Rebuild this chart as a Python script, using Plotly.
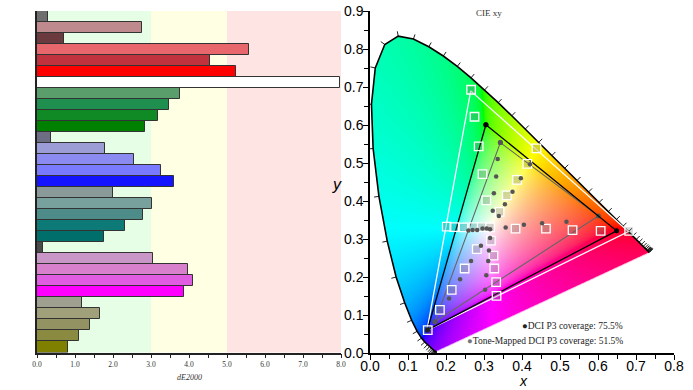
import base64
import struct
import zlib

import numpy as np
import plotly.graph_objects as go

# ---------------- data: left bar chart (dE2000 per patch) ----------------
de_values = [0.29, 2.77, 0.70, 5.59, 4.56, 5.24, 7.98, 3.76, 3.47, 3.19, 2.85,
             0.37, 1.78, 2.56, 3.25, 3.60, 2.00, 3.03, 2.80, 2.31, 1.76,
             0.16, 3.06, 3.98, 4.10, 3.87, 1.18, 1.66, 1.39, 1.11, 0.82]
bar_colors = ["#6e6e6e", "#bf8a8e", "#6b3a3e", "#e8676d", "#c0323e", "#ff0000",
              "#ffffff", "#5a9e6b", "#1f8f4f", "#0f8a24", "#008000",
              "#6d6d84", "#9c9cd6", "#8a8af0", "#7a7aff", "#1414ff",
              "#8a9a98", "#78a09c", "#4e8c8a", "#0e7a78", "#006e6b",
              "#4a4a4a", "#c996c8", "#d880cc", "#e05ce0", "#ff00ff",
              "#a0a090", "#a0a07a", "#929262", "#8a8a40", "#808000"]
band_edges = [0, 3, 5, 8]
band_colors = ["#e6fde6", "#ffffe4", "#ffe4e4"]
de_ticks = [0, 1, 2, 3, 4, 5, 6, 7, 8]

# ---------------- data: CIE 1931 spectral locus ----------------
wl = list(range(380, 705, 5))
locus_x = [0.1741, 0.1740, 0.1738, 0.1736, 0.1733, 0.1730, 0.1726, 0.1721, 0.1714,
           0.1703, 0.1689, 0.1669, 0.1644, 0.1611, 0.1566, 0.1510, 0.1440, 0.1355,
           0.1241, 0.1096, 0.0913, 0.0687, 0.0454, 0.0235, 0.0082, 0.0039, 0.0139,
           0.0389, 0.0743, 0.1142, 0.1547, 0.1929, 0.2296, 0.2658, 0.3016, 0.3373,
           0.3731, 0.4087, 0.4441, 0.4788, 0.5125, 0.5448, 0.5752, 0.6029, 0.6270,
           0.6482, 0.6658, 0.6801, 0.6915, 0.7006, 0.7079, 0.7140, 0.7190, 0.7230,
           0.7260, 0.7283, 0.7300, 0.7311, 0.7320, 0.7327, 0.7334, 0.7340, 0.7344,
           0.7346, 0.7347]
locus_y = [0.0050, 0.0050, 0.0049, 0.0049, 0.0048, 0.0048, 0.0048, 0.0048, 0.0051,
           0.0058, 0.0069, 0.0086, 0.0109, 0.0138, 0.0177, 0.0227, 0.0297, 0.0399,
           0.0578, 0.0868, 0.1327, 0.2007, 0.2950, 0.4127, 0.5384, 0.6548, 0.7502,
           0.8120, 0.8338, 0.8262, 0.8059, 0.7816, 0.7543, 0.7243, 0.6923, 0.6589,
           0.6245, 0.5896, 0.5547, 0.5202, 0.4866, 0.4544, 0.4242, 0.3965, 0.3725,
           0.3514, 0.3340, 0.3197, 0.3083, 0.2993, 0.2920, 0.2859, 0.2809, 0.2770,
           0.2740, 0.2717, 0.2700, 0.2689, 0.2680, 0.2673, 0.2666, 0.2660, 0.2656,
           0.2654, 0.2653]

# ---------------- data: gamuts ----------------
target_tri_x = [0.265, 0.680, 0.150]       # DCI P3 target (white)
target_tri_y = [0.690, 0.320, 0.060]
measured_tri_x = [0.305, 0.649, 0.151]     # measured (black)
measured_tri_y = [0.601, 0.322, 0.061]
tone_tri_x = [0.343, 0.601, 0.171]         # tone-mapped (gray)
tone_tri_y = [0.554, 0.361, 0.083]

target_pts_x = [0.266, 0.275, 0.286, 0.296, 0.306,
                0.438, 0.414, 0.387, 0.360, 0.341,
                0.383, 0.463, 0.533, 0.607, 0.682,
                0.202, 0.222, 0.246, 0.272, 0.294, 0.316,
                0.318, 0.325, 0.327, 0.332, 0.333,
                0.281, 0.249, 0.215, 0.184, 0.152]
target_pts_y = [0.693, 0.622, 0.544, 0.471, 0.402,
                0.539, 0.498, 0.456, 0.415, 0.372,
                0.328, 0.328, 0.324, 0.322, 0.322,
                0.333, 0.332, 0.331, 0.332, 0.332, 0.331,
                0.296, 0.257, 0.223, 0.187, 0.151,
                0.274, 0.223, 0.167, 0.114, 0.061]

tone_pts_x = [0.323, 0.326, 0.332, 0.336,
              0.339, 0.355, 0.375, 0.397, 0.421,
              0.357, 0.405, 0.453, 0.517,
              0.316, 0.307, 0.296, 0.282, 0.270, 0.259,
              0.316, 0.313, 0.311, 0.306, 0.303,
              0.292, 0.266, 0.237, 0.208]
tone_pts_y = [0.375, 0.421, 0.465, 0.511,
              0.361, 0.392, 0.425, 0.460, 0.497,
              0.331, 0.338, 0.342, 0.346,
              0.326, 0.328, 0.328, 0.324, 0.324, 0.323,
              0.303, 0.270, 0.243, 0.205, 0.167,
              0.283, 0.243, 0.195, 0.144]

coverage_p3 = 75.5
coverage_tone = 51.5

# ---------------- geometry (reference pixel coordinates) ----------------
W, H = 693, 390
L_X0, L_X1 = 37, 341
R_X0, R_X1 = 370, 674
TOP, L_BOT, R_BOT = 11, 352.5, 353.3
X2_RANGE = [0, 0.8]
Y2_RANGE = [0, 0.9]


def px(xp):
    return xp / W


def py(yp):
    return 1 - yp / H


def inside_polygon(pxs, pys, vx, vy):
    inside = np.zeros(pxs.shape, bool)
    n = len(vx)
    j = n - 1
    for i in range(n):
        xi, yi, xj, yj = vx[i], vy[i], vx[j], vy[j]
        cond = (yi > pys) != (yj > pys)
        if yj != yi:
            xint = (xj - xi) * (pys - yi) / (yj - yi) + xi
            inside ^= cond & (pxs < xint)
        j = i
    return inside


def xy_to_rgb(x, y):
    y = np.maximum(y, 1e-4)
    X = x / y
    Y = np.ones_like(x)
    Z = (1 - x - y) / y
    r = 3.2406 * X - 1.5372 * Y - 0.4986 * Z
    g = -0.9689 * X + 1.8758 * Y + 0.0415 * Z
    b = 0.0557 * X - 0.2040 * Y + 1.0570 * Z
    rgb = np.stack([r, g, b], axis=-1)
    mn = np.minimum(rgb.min(axis=-1, keepdims=True), 0)
    rgb = rgb - mn
    rgb = rgb / np.maximum(rgb.max(axis=-1, keepdims=True), 1e-9)
    rgb = np.where(rgb <= 0.0031308, 12.92 * rgb, 1.055 * np.power(rgb, 1 / 2.4) - 0.055)
    return np.clip(rgb * 255, 0, 255)


def png_data_uri(rgba):
    h, w, _ = rgba.shape
    raw = b"".join(b"\x00" + rgba[r].tobytes() for r in range(h))

    def chunk(t, d):
        return struct.pack(">I", len(d)) + t + d + struct.pack(">I", zlib.crc32(t + d) & 0xffffffff)

    png = (b"\x89PNG\r\n\x1a\n" + chunk(b"IHDR", struct.pack(">IIBBBBB", w, h, 8, 6, 0, 0, 0))
           + chunk(b"IDAT", zlib.compress(raw, 9)) + chunk(b"IEND", b""))
    return "data:image/png;base64," + base64.b64encode(png).decode()


# gamut colour image
NX, NY = R_X1 - R_X0, int(round(R_BOT - TOP))
SS = 3
vx = np.array(locus_x)
vy = np.array(locus_y)
xs_s = (np.arange(NX * SS) + 0.5) / (NX * SS) * X2_RANGE[1]
ys_s = Y2_RANGE[1] - (np.arange(NY * SS) + 0.5) / (NY * SS) * Y2_RANGE[1]
gx, gy = np.meshgrid(xs_s, ys_s)
mask = inside_polygon(gx, gy, vx, vy).astype(float)
alpha = mask.reshape(NY, SS, NX, SS).mean(axis=(1, 3))
xs = (np.arange(NX) + 0.5) / NX * X2_RANGE[1]
ys = Y2_RANGE[1] - (np.arange(NY) + 0.5) / NY * Y2_RANGE[1]
cx, cy = np.meshgrid(xs, ys)
rgb = xy_to_rgb(cx, cy)
rgba = np.concatenate([rgb, (alpha * 255)[..., None]], axis=-1).astype(np.uint8)
img_uri = png_data_uri(rgba)

# wavelength ticks (outward normals of the locus)
tick_len = 0.013
tx, ty = [], []
n = len(locus_x)
for i in range(n):
    a = max(i - 1, 0)
    b = min(i + 1, n - 1)
    dx = locus_x[b] - locus_x[a]
    dy = locus_y[b] - locus_y[a]
    nrm = (dx * dx + dy * dy) ** 0.5
    if nrm < 1e-4:
        continue
    ox, oy = -dy / nrm, dx / nrm
    tx += [locus_x[i], locus_x[i] + ox * tick_len, None]
    ty += [locus_y[i], locus_y[i] + oy * tick_len, None]

fig = go.Figure()

# ---------------- left: dE bars ----------------
idx = list(range(len(de_values)))
fig.add_trace(go.Bar(x=de_values, y=idx, orientation="h", width=1,
                     marker=dict(color=bar_colors, line=dict(color="#333333", width=1)),
                     xaxis="x", yaxis="y", hoverinfo="x"))

shapes = []
for i in range(len(band_colors)):
    shapes.append(dict(type="rect", xref="x", yref="y domain", x0=band_edges[i], x1=band_edges[i + 1],
                       y0=0, y1=1, fillcolor=band_colors[i], line=dict(width=0), layer="below"))

# ---------------- right: CIE xy ----------------
fig.add_trace(go.Scatter(x=tx, y=ty, mode="lines", line=dict(color="#222222", width=1),
                         xaxis="x2", yaxis="y2", hoverinfo="skip"))
fig.add_trace(go.Scatter(x=locus_x, y=locus_y, mode="lines", line=dict(color="black", width=1.6),
                         xaxis="x2", yaxis="y2", hoverinfo="skip"))
fig.add_trace(go.Scatter(x=target_tri_x + target_tri_x[:1], y=target_tri_y + target_tri_y[:1],
                         mode="lines", line=dict(color="white", width=1.3), xaxis="x2", yaxis="y2"))
fig.add_trace(go.Scatter(x=tone_tri_x + tone_tri_x[:1], y=tone_tri_y + tone_tri_y[:1],
                         mode="lines+markers", line=dict(color="#666666", width=1.1),
                         marker=dict(size=5, color="#555555"), xaxis="x2", yaxis="y2"))
fig.add_trace(go.Scatter(x=measured_tri_x + measured_tri_x[:1], y=measured_tri_y + measured_tri_y[:1],
                         mode="lines+markers", line=dict(color="black", width=1.3),
                         marker=dict(size=5, color="black"), xaxis="x2", yaxis="y2"))
fig.add_trace(go.Scatter(x=target_pts_x, y=target_pts_y, mode="markers",
                         marker=dict(symbol="square", size=8.5, color="rgba(110,110,110,0.28)",
                                     line=dict(color="white", width=1.3)),
                         xaxis="x2", yaxis="y2"))
fig.add_trace(go.Scatter(x=tone_pts_x, y=tone_pts_y, mode="markers",
                         marker=dict(size=4.5, color="#555555"), xaxis="x2", yaxis="y2"))

serif = "Liberation Serif, Times New Roman, serif"
sans = "Liberation Sans, Arial, sans-serif"

annotations = [
    dict(text="<i>dE2000</i>", x=px((L_X0 + L_X1) / 2), y=py(377), xref="paper", yref="paper",
         showarrow=False, font=dict(family=serif, size=8, color="#333333"), xanchor="center",
         yanchor="middle"),
    dict(text="CIE xy", x=px(489), y=py(13), xref="paper", yref="paper", showarrow=False,
         font=dict(family=serif, size=9, color="#333333"), xanchor="center", yanchor="middle"),
    dict(text="<i>x</i>", x=px(523), y=py(381), xref="paper", yref="paper", showarrow=False,
         font=dict(family=sans, size=14, color="black"), xanchor="center", yanchor="middle"),
    dict(text="<i>y</i>", x=px(337), y=py(184), xref="paper", yref="paper", showarrow=False,
         font=dict(family=sans, size=16, color="black"), xanchor="center", yanchor="middle"),
    dict(text="\u25CFDCI P3 coverage: %.1f%%" % coverage_p3, x=px(625), y=py(326),
         xref="paper", yref="paper", showarrow=False,
         font=dict(family=serif, size=9.5, color="#222222"), xanchor="right", yanchor="middle"),
    dict(text="<span style='color:#777777'>\u25CF</span>Tone-Mapped DCI P3 coverage: %.1f%%" % coverage_tone,
         x=px(625), y=py(341), xref="paper", yref="paper", showarrow=False,
         font=dict(family=serif, size=9.5, color="#222222"), xanchor="right", yanchor="middle"),
]

fig.update_layout(
    width=W, height=H, margin=dict(l=0, r=0, t=0, b=0, autoexpand=False),
    paper_bgcolor="white", plot_bgcolor="white", showlegend=False, bargap=0,
    shapes=shapes, annotations=annotations,
    images=[dict(source=img_uri, xref="x2", yref="y2", x=0, y=Y2_RANGE[1], sizex=X2_RANGE[1],
                 sizey=Y2_RANGE[1], sizing="stretch", xanchor="left", yanchor="top", layer="below")],
    xaxis=dict(domain=[px(L_X0), px(L_X1)], range=[0, 8], anchor="y", showgrid=False, zeroline=False,
               automargin=False,
               showline=True, linecolor="#222222", linewidth=1.5, ticks="outside", ticklen=4,
               tickcolor="#222222", tickvals=de_ticks, tickformat=".1f",
               minor=dict(ticks="outside", dtick=0.5, ticklen=4, tickcolor="#222222"),
               tickfont=dict(family=serif, size=7.5, color="#333333")),
    yaxis=dict(domain=[py(L_BOT), py(TOP)], range=[len(de_values) - 0.5, -0.5],
               automargin=False,
               anchor="x", showgrid=False, zeroline=False, showline=True, linecolor="#222222",
               linewidth=1.5, showticklabels=False, ticks=""),
    xaxis2=dict(domain=[px(R_X0), px(R_X1)], range=X2_RANGE, anchor="y2", showgrid=False,
                automargin=False, ticklabeloverflow="allow",
                zeroline=False, showline=True, linecolor="black", linewidth=1.5, ticks="outside",
                ticklen=5, tickcolor="black", dtick=0.1, tickformat=".1f", ticklabelstandoff=-6,
                minor=dict(ticks="outside", dtick=0.05, ticklen=4, tickcolor="black"),
                tickfont=dict(family=sans, size=14, color="black")),
    yaxis2=dict(domain=[py(R_BOT), py(TOP)], range=Y2_RANGE, anchor="x2", showgrid=False,
                automargin=False, ticklabeloverflow="allow",
                zeroline=False, showline=True, linecolor="black", linewidth=1.5, ticks="outside",
                ticklen=5, tickcolor="black", dtick=0.1, tickformat=".1f", ticklabelstandoff=-3,
                minor=dict(ticks="outside", dtick=0.05, ticklen=4, tickcolor="black"),
                tickfont=dict(family=sans, size=14, color="black")),
)

fig.write_html("out.html", config={"displayModeBar": False},
               post_script="document.body.style.margin='0';")
